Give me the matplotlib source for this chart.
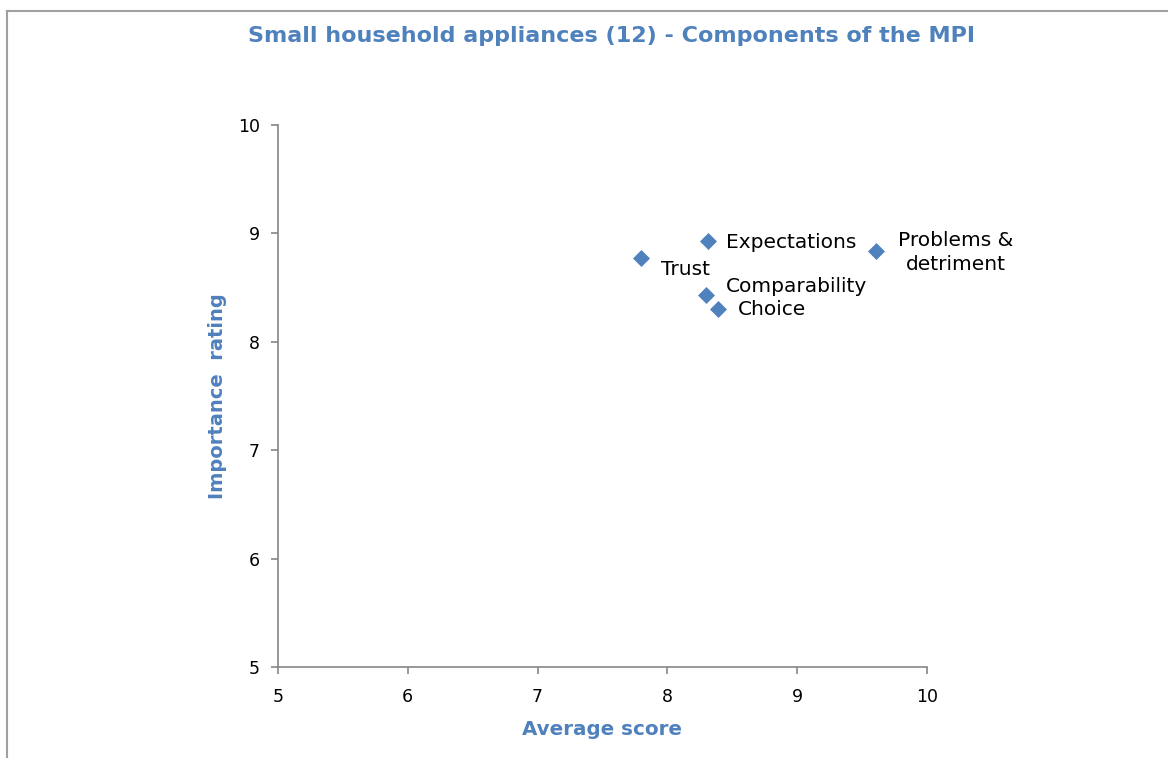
import matplotlib
matplotlib.use("Agg")
import matplotlib.pyplot as plt
from matplotlib.lines import Line2D

labels = ["Trust", "Expectations", "Problems &\ndetriment", "Comparability", "Choice"]
avg_score = [7.80, 8.31, 9.61, 8.30, 8.39]
importance = [8.77, 8.93, 8.84, 8.43, 8.30]
x_ticks = [5, 6, 7, 8, 9, 10]
y_ticks = [5, 6, 7, 8, 9, 10]

# label offsets in points (dx, dy) and alignment
offsets = [(14, -8, "left"), (13, -1, "left"), (57, -1, "center"), (14, 6, "left"), (14, 0, "left")]

blue = "#4F81BD"
gray = "#868686"

fig = plt.figure(figsize=(11.68, 7.58), dpi=100)
ax = fig.add_axes([278/1168, 1-667/758, (927-278)/1168, (667-125)/758])

ax.scatter(avg_score, importance, marker="D", s=75, color=blue, zorder=3, linewidths=0)
for lab, xv, yv, (dx, dy, ha) in zip(labels, avg_score, importance, offsets):
    ax.annotate(lab, (xv, yv), xytext=(dx, dy), textcoords="offset points",
                ha=ha, va="center", fontsize=14.5, family="DejaVu Sans",
                multialignment="center", linespacing=1.35)

ax.set_xlim(5, 10)
ax.set_ylim(5, 10)
ax.set_xticks(x_ticks)
ax.set_yticks(y_ticks)
ax.tick_params(axis="both", colors=gray, labelcolor="black", labelsize=12.5,
               length=5, width=1.2, direction="out")
ax.tick_params(axis="x", pad=10)
ax.tick_params(axis="y", pad=8)
for s in ["top", "right"]:
    ax.spines[s].set_visible(False)
for s in ["left", "bottom"]:
    ax.spines[s].set_color(gray)
    ax.spines[s].set_linewidth(1.2)

ax.set_xlabel("Average score", color=blue, fontweight="bold", fontsize=14.3, labelpad=10)
ax.set_ylabel("Importance  rating", color=blue, fontweight="bold", fontsize=14, labelpad=8)

fig.text(611/1168, 1-36/758, "Small household appliances (12) - Components of the MPI",
         ha="center", va="center", color=blue, fontweight="bold", fontsize=16)

# outer chart border (partially visible)
fig.add_artist(Line2D([7/1168, 7/1168], [0, 1-11/758], transform=fig.transFigure, color="#A0A0A0", lw=1.5))
fig.add_artist(Line2D([7/1168, 1], [1-11/758, 1-11/758], transform=fig.transFigure, color="#A0A0A0", lw=1.5))

fig.savefig("out.png", dpi=100)
